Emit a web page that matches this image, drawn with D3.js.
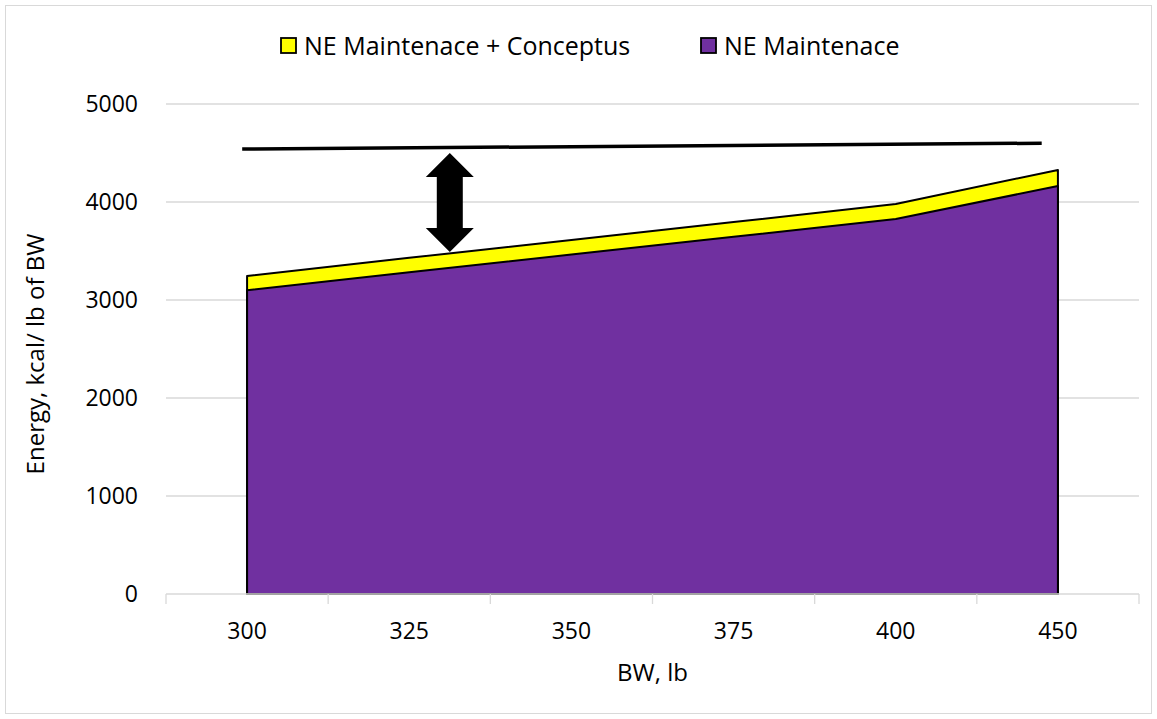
<!DOCTYPE html>
<html>
<head>
<meta charset="utf-8">
<script src="https://cdn.jsdelivr.net/npm/d3@7"></script>
<style>
  body { margin: 0; background: #fff; }
  text { font-family: "Open Sans", "Noto Sans", sans-serif; fill: #000; }
</style>
</head>
<body>
<div id="chart"></div>
<script>
const categories = ['300', '325', '350', '375', '400', '450'];
const neMaint = [3100, 3282, 3464, 3645, 3827, 4163];
const neMaintConceptus = [3245, 3430, 3612, 3795, 3980, 4327];
const yTicks = [0, 1000, 2000, 3000, 4000, 5000];
// requirement line drawn over the chart, positions in category index units
const reqLine = [{ pos: -0.03, value: 4540 }, { pos: 4.9, value: 4600 }];
const arrowSpan = { pos: 1.25, top: 4500, bottom: 3490 };

const fullWidth = 1157, fullHeight = 719;
const margin = { top: 104, left: 166, right: 18, bottom: 125 };
const width = fullWidth - margin.left - margin.right;
const height = fullHeight - margin.top - margin.bottom;
const fontSize = '23px';

const root = d3.select('#chart').append('svg')
    .attr('width', fullWidth)
    .attr('height', fullHeight);

root.append('rect')
    .attr('x', 5.5).attr('y', 5.5)
    .attr('width', fullWidth - 11).attr('height', fullHeight - 11)
    .style('fill', '#fff').style('stroke', '#d9d9d9');

const svg = root.append('g')
    .attr('transform', `translate(${margin.left}, ${margin.top})`);

const xBand = d3.scaleBand().domain(categories).range([0, width]).padding(0);
const xIdx = d3.scaleLinear().domain([-0.5, categories.length - 0.5]).range([0, width]);
const yScale = d3.scaleLinear().domain([0, 5000]).range([height, 0]);

// gridlines
svg.append('g')
    .selectAll('line')
    .data(yTicks.filter(d => d > 0))
    .join('line')
        .attr('x1', 0).attr('x2', width)
        .attr('y1', d => yScale(d)).attr('y2', d => yScale(d))
        .style('stroke', '#d9d9d9').style('stroke-width', 1.3);

// y axis labels
const yAxis = d3.axisLeft(yScale).tickValues(yTicks).tickFormat(d3.format('d'))
    .tickSize(0).tickPadding(28);
svg.append('g').call(yAxis)
    .call(g => g.select('.domain').remove())
    .selectAll('text').style('font-size', fontSize);

// areas
const area = d3.area()
    .x((d, i) => xIdx(i))
    .y0(yScale(0))
    .y1(d => yScale(d));

svg.append('path')
    .datum(neMaintConceptus)
    .attr('d', area)
    .style('fill', '#ffff00').style('stroke', '#000').style('stroke-width', 2)
    .style('stroke-linejoin', 'round');

svg.append('path')
    .datum(neMaint)
    .attr('d', area)
    .style('fill', '#7030a0').style('stroke', '#000').style('stroke-width', 2)
    .style('stroke-linejoin', 'round');

// x axis
svg.append('line')
    .attr('x1', 0).attr('x2', width)
    .attr('y1', height).attr('y2', height)
    .style('stroke', '#d9d9d9').style('stroke-width', 1.5);

const bounds = categories.map(c => xBand(c)).concat([width]);
svg.append('g')
    .selectAll('line')
    .data(bounds)
    .join('line')
        .attr('x1', d => d).attr('x2', d => d)
        .attr('y1', height).attr('y2', height + 10)
        .style('stroke', '#d9d9d9').style('stroke-width', 1.3);

const xAxis = d3.axisBottom(xBand).tickSize(0).tickPadding(29);
svg.append('g')
    .attr('transform', `translate(0, ${height})`)
    .call(xAxis)
    .call(g => g.select('.domain').remove())
    .selectAll('text').style('font-size', fontSize);

// requirement line
svg.append('path')
    .datum(reqLine)
    .attr('d', d3.line().x(d => xIdx(d.pos)).y(d => yScale(d.value)))
    .style('stroke', '#000').style('stroke-width', 3.5).style('fill', 'none');

// double arrow
const ax = xIdx(arrowSpan.pos);
const yT = yScale(arrowSpan.top), yB = yScale(arrowSpan.bottom);
const hw = 24, sw = 13, hl = 24;
const arrowPts = [
    [ax, yT], [ax + hw, yT + hl], [ax + sw, yT + hl], [ax + sw, yB - hl], [ax + hw, yB - hl],
    [ax, yB], [ax - hw, yB - hl], [ax - sw, yB - hl], [ax - sw, yT + hl], [ax - hw, yT + hl]
];
svg.append('polygon')
    .attr('points', arrowPts.map(p => p.join(',')).join(' '))
    .style('fill', '#000');

// axis titles
root.append('text')
    .attr('x', margin.left + width / 2).attr('y', 681)
    .attr('text-anchor', 'middle')
    .style('font-size', '24px')
    .text('BW, lb');

root.append('text')
    .attr('transform', `translate(44, ${margin.top + height / 2 + 5}) rotate(-90)`)
    .attr('text-anchor', 'middle')
    .style('font-size', '24px')
    .text('Energy, kcal/ lb of BW');

// legend
const legendItems = [
    { name: 'NE Maintenace + Conceptus', color: '#ffff00', x: 281 },
    { name: 'NE Maintenace', color: '#7030a0', x: 701 }
];
const legend = root.append('g').selectAll('g')
    .data(legendItems)
    .join('g')
        .attr('transform', d => `translate(${d.x}, 38)`);
legend.append('rect')
    .attr('width', 15).attr('height', 15)
    .style('fill', d => d.color).style('stroke', '#000').style('stroke-width', 1.8);
legend.append('text')
    .attr('x', 23).attr('y', 17)
    .style('font-size', '25px')
    .text(d => d.name);
</script>
</body>
</html>
